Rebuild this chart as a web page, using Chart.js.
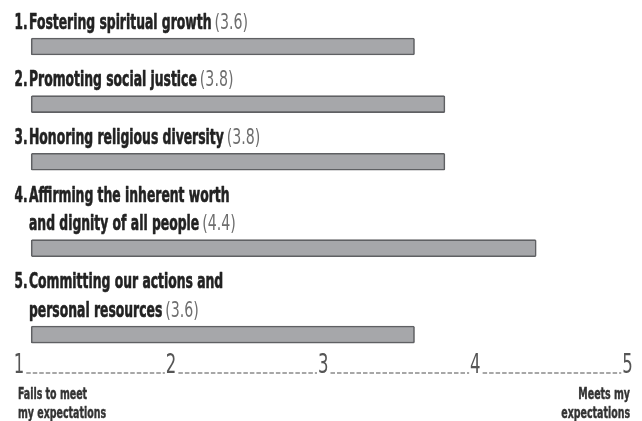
<!DOCTYPE html>
<html><head><meta charset="utf-8">
<script src="https://cdn.jsdelivr.net/npm/chart.js@4.4.1/dist/chart.umd.min.js"></script>
<style>html,body{margin:0;padding:0;background:#fff;}#wrap{width:642px;height:421px;}</style>
</head><body><div id="wrap"><canvas id="c" width="642" height="421"></canvas></div>
<script>
const itemNumbers = ['1.', '2.', '3.', '4.', '5.'];
const itemLabels = [
  ['Fostering spiritual growth'],
  ['Promoting social justice'],
  ['Honoring religious diversity'],
  ['Affirming the inherent worth', 'and dignity of all people'],
  ['Committing our actions and', 'personal resources']
];
const ratings = [3.6, 3.8, 3.8, 4.4, 3.6];
const scaleTicks = [1, 2, 3, 4, 5];
const leftEndLabel = ['Fails to meet', 'my expectations'];
const rightEndLabel = ['Meets my', 'expectations'];
const BAR_START = 1.08;

const FONT = "'DejaVu Sans Condensed', 'DejaVu Sans', sans-serif";

// Build rows: each label line occupies one row, then the bar row
const rowKeys = [];
const rowData = [];
const labelRows = [];
itemLabels.forEach((lines, i) => {
  lines.forEach((t, j) => {
    labelRows.push({ item: i, line: j, row: rowKeys.length });
    rowKeys.push('L' + i + '_' + j);
    rowData.push(null);
  });
  rowKeys.push('B' + i);
  rowData.push([BAR_START, ratings[i]]);
});

// draw horizontally-condensed text; returns drawn width
function drawText(ctx, text, x, y, font, color, sx, align, bold) {
  ctx.save();
  ctx.font = font;
  ctx.fillStyle = color;
  ctx.textBaseline = 'alphabetic';
  const w = ctx.measureText(text).width * sx;
  let x0 = x;
  if (align === 'right') x0 = x - w;
  else if (align === 'center') x0 = x - w / 2;
  ctx.translate(x0, y);
  ctx.scale(sx, 1);
  ctx.textAlign = 'left';
  ctx.fillText(text, 0, 0);
  if (bold) {
    ctx.strokeStyle = color;
    ctx.lineWidth = bold;
    ctx.lineJoin = 'round';
    ctx.strokeText(text, 0, 0);
  }
  ctx.restore();
  return w;
}

const labelPlugin = {
  id: 'labels',
  afterDatasetsDraw(chart) {
    const ctx = chart.ctx;
    const ys = chart.scales.y;
    const xs = chart.scales.x;
    labelRows.forEach(({ item, line, row }) => {
      const yb = ys.getPixelForValue(row) + 11;
      const lines = itemLabels[item];
      if (line === 0) drawText(ctx, itemNumbers[item], 14.5, yb, 'bold 21px ' + FONT, '#222222', 0.64, 'left', 0.6);
      const tx = 29;
      const w = drawText(ctx, lines[line], tx, yb, 'bold 21px ' + FONT, '#222222', 0.655, 'left', 0.6);
      if (line === lines.length - 1) {
        drawText(ctx, '(' + ratings[item].toFixed(1) + ')', tx + w + 3, yb, '21px ' + FONT, '#6e6e6e', 0.75, 'left', 0);
      }
    });

    // tick numbers along the scale, with dashed rule between them
    const tickFont = '27px ' + FONT;
    const tickSx = 0.68;
    const yNum = 373;
    const halfW = [];
    xs.ticks.forEach((t, i) => {
      const px = xs.getPixelForValue(t.value);
      halfW[i] = drawText(ctx, String(t.value), px, yNum, tickFont, '#555555', tickSx, 'center', 0) / 2;
    });
    ctx.save();
    ctx.strokeStyle = '#8a8a8a';
    ctx.lineWidth = 1.6;
    ctx.setLineDash([4.5, 2]);
    for (let i = 0; i < xs.ticks.length - 1; i++) {
      const a = xs.getPixelForValue(xs.ticks[i].value) + halfW[i] + 2;
      const b = xs.getPixelForValue(xs.ticks[i + 1].value) - halfW[i + 1] - 1;
      ctx.beginPath();
      ctx.moveTo(a, yNum);
      ctx.lineTo(b, yNum);
      ctx.stroke();
    }
    ctx.restore();

    // end labels
    leftEndLabel.forEach((t, k) => drawText(ctx, t, 18, 399 + k * 19, 'bold 15px ' + FONT, '#333333', 0.7, 'left', 0.4));
    rightEndLabel.forEach((t, k) => drawText(ctx, t, 630, 399 + k * 19, 'bold 15px ' + FONT, '#333333', 0.7, 'right', 0.4));
  }
};

new Chart(document.getElementById('c').getContext('2d'), {
  type: 'bar',
  data: {
    labels: rowKeys,
    datasets: [{
      data: rowData,
      backgroundColor: '#a6a7aa',
      borderColor: '#5f6063',
      borderWidth: 1.6,
      borderSkipped: false,
      borderRadius: 1.5,
      barThickness: 17
    }]
  },
  options: {
    indexAxis: 'y',
    responsive: false,
    animation: false,
    events: [],
    layout: { padding: { left: 19, right: 14.5, top: 3.3, bottom: 72 } },
    plugins: { legend: { display: false }, tooltip: { enabled: false } },
    scales: {
      y: { display: false, offset: true },
      x: {
        display: false,
        min: 1, max: 5,
        afterBuildTicks: axis => { axis.ticks = scaleTicks.map(v => ({ value: v })); }
      }
    }
  },
  plugins: [labelPlugin]
});
</script>
</body></html>
